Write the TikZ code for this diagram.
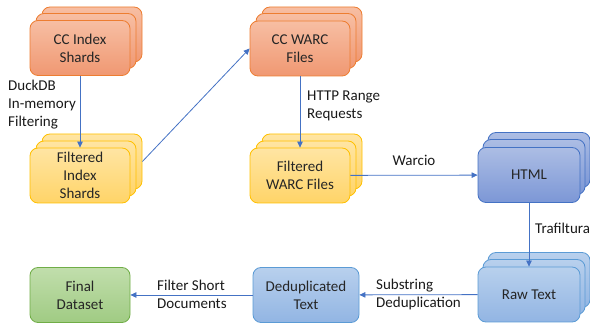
\documentclass[tikz,border=0pt]{standalone}
\usepackage{fontspec}
\setmainfont{Carlito}
\usetikzlibrary{arrows.meta}
\definecolor{orB}{RGB}{237,125,49}
\definecolor{orT}{RGB}{247,190,163}
\definecolor{orBt}{RGB}{240,152,114}
\definecolor{yeB}{RGB}{255,192,0}
\definecolor{yeT}{RGB}{255,229,163}
\definecolor{yeBt}{RGB}{255,212,104}
\definecolor{hbB}{RGB}{68,114,196}
\definecolor{hbT}{RGB}{172,189,228}
\definecolor{hbBt}{RGB}{124,151,214}
\definecolor{lbB}{RGB}{91,155,213}
\definecolor{lbT}{RGB}{184,208,237}
\definecolor{lbBt}{RGB}{146,181,227}
\definecolor{grB}{RGB}{112,173,71}
\definecolor{grT}{RGB}{193,222,172}
\definecolor{grBt}{RGB}{160,203,131}
\definecolor{arr}{RGB}{68,114,196}
\definecolor{txt}{RGB}{38,38,38}
\tikzset{
  box/.style={rounded corners=8pt, line width=0.8pt, minimum width=100pt, minimum height=55pt,
    inner sep=1pt, align=center, text=txt, font=\fontsize{15}{18}\selectfont},
  orange/.style={box, draw=orB, top color=orT, bottom color=orBt},
  yellow/.style={box, draw=yeB, top color=yeT, bottom color=yeBt},
  hblue/.style={box, draw=hbB, top color=hbT, bottom color=hbBt, minimum width=102pt},
  lblue/.style={box, draw=lbB, top color=lbT, bottom color=lbBt},
  green/.style={box, draw=grB, top color=grT, bottom color=grBt},
  conn/.style={draw=arr, line width=0.8pt, -{Triangle[length=6pt,width=5.5pt]}},
  lbl/.style={inner sep=0pt, align=left, text=black!90, font=\fontsize{15}{18}\selectfont}
}
\begin{document}
\begin{tikzpicture}[x=1pt,y=-1pt]
\useasboundingbox (0,0) rectangle (590,323);
% CC Index Shards
\node[orange] (ci3) at (92,34.5) {};
\node[orange] (ci2) at (86,41) {};
\node[orange] (ci) at (80,48) {CC Index\\Shards};
% Filtered Index Shards
\node[yellow] (fi3) at (92,161.5) {};
\node[yellow] (fi2) at (86,168.5) {};
\node[yellow] (fi) at (80,175.5) {Filtered\\Index\\Shards};
% CC WARC Files
\node[orange] (cw3) at (312,34.5) {};
\node[orange] (cw2) at (306,41) {};
\node[orange] (cw) at (300,48.5) {CC WARC\\Files};
% Filtered WARC Files
\node[yellow] (fw3) at (312,161.5) {};
\node[yellow] (fw2) at (306,168.5) {};
\node[yellow] (fw) at (300,175.5) {Filtered\\WARC Files};
% HTML
\node[hblue] (ht3) at (539,160) {};
\node[hblue] (ht2) at (534,167) {};
\node[hblue] (ht) at (529,175) {HTML};
% Raw Text
\node[lblue, minimum width=102pt] (rt3) at (539,280) {};
\node[lblue, minimum width=102pt] (rt2) at (534,287) {};
\node[lblue, minimum width=102pt] (rt) at (529,294.5) {Raw Text};
% Deduplicated Text
\node[lblue, minimum width=106pt] (dt) at (306,295) {Deduplicated\\Text};
% Final Dataset
\node[green] (fd) at (80,295) {Final\\Dataset};
% connectors
\draw[conn] (ci) -- (fi);
\draw[conn] (fi3.east) -- (cw.west);
\draw[conn] (cw) -- (fw);
\draw[conn] (fw) -- (ht);
\draw[conn] (ht) -- (rt);
\draw[conn] (rt) -- (dt);
\draw[conn] (dt) -- (fd);
% labels
\node[lbl, anchor=west] (l1) at (8,105) {DuckDB\\In-memory\\Filtering};
\node[lbl, anchor=west] (l2) at (307,106) {HTTP Range\\Requests};
\node[lbl] (l3) at (414,160) {Warcio};
\node[lbl, anchor=west] (l4) at (535,228) {Trafiltura};
\node[lbl, anchor=west] (l5) at (376,295) {Substring\\Deduplication};
\node[lbl, anchor=west] (l6) at (157,294) {Filter Short\\Documents};
\end{tikzpicture}
\end{document}
